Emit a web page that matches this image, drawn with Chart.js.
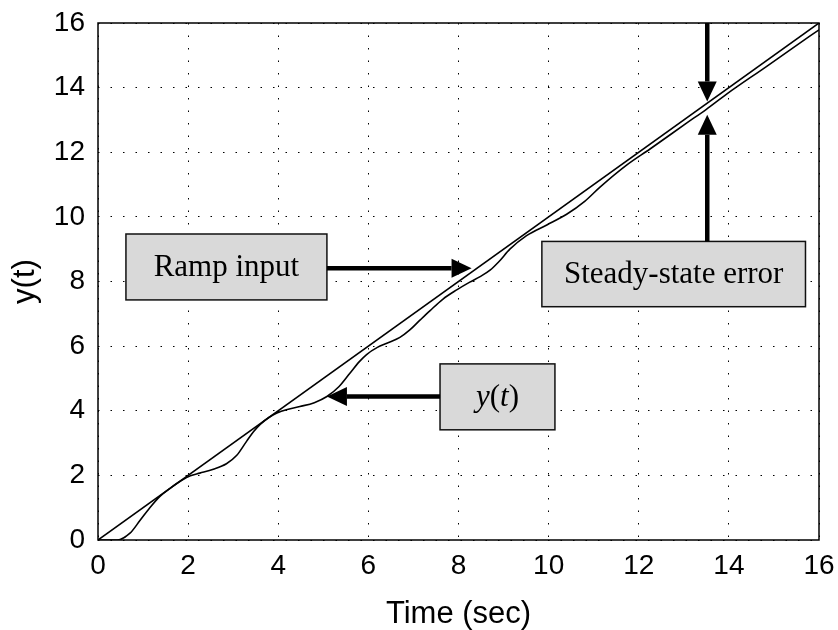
<!DOCTYPE html>
<html>
<head>
<meta charset="utf-8">
<script src="https://cdn.jsdelivr.net/npm/chart.js@4"></script>
<style>
  html, body { margin: 0; padding: 0; background: #fff; }
  #wrap { width: 838px; height: 630px; }
</style>
</head>
<body>
<div id="wrap"><canvas id="chart" width="838" height="630"></canvas></div>
<script>
// --- Data ---
const tickValues = [0, 2, 4, 6, 8, 10, 12, 14, 16];

const rampTime = [0, 16];
const rampValue = [0, 16];

const responseTime = [0, 0.43, 0.71, 0.93, 1.15, 1.38, 1.6, 1.85, 2.05, 2.26, 2.56, 2.85, 3.08, 3.3, 3.45,
    3.6, 3.8, 3.97, 4.2, 4.48, 4.8, 5.08, 5.35, 5.59, 5.8, 5.96, 6.2, 6.41, 6.7, 6.92, 7.15, 7.37,
    7.65, 7.96, 8.25, 8.48, 8.7, 8.9, 9.14, 9.51, 9.96, 10.4, 10.8, 11.14, 11.73, 12.25, 13.06,
    13.5, 13.95, 14.84, 15.36, 16];
const responseValue = [0, 0, 0.21, 0.6, 1.0, 1.36, 1.6, 1.84, 1.99, 2.07, 2.19, 2.36, 2.62, 3.06, 3.35,
    3.58, 3.8, 3.93, 4.04, 4.13, 4.25, 4.44, 4.75, 5.16, 5.52, 5.74, 5.96, 6.09, 6.27, 6.5, 6.81, 7.1,
    7.45, 7.74, 7.98, 8.15, 8.35, 8.62, 9.0, 9.42, 9.75, 10.08, 10.48, 10.92, 11.6, 12.1, 12.9,
    13.33, 13.8, 14.66, 15.17, 15.79];

const toPoints = (xs, ys) => xs.map((v, i) => ({ x: v, y: ys[i] }));

// --- Annotation drawing (boxes + arrows, placed in data units) ---
function drawArrow(ctx, x0, y0, x1, y1) {
    const headLen = 20, headHalf = 9.5;
    const ang = Math.atan2(y1 - y0, x1 - x0);
    const bx = x1 - headLen * Math.cos(ang);
    const by = y1 - headLen * Math.sin(ang);
    ctx.lineWidth = 4.5;
    ctx.strokeStyle = '#000';
    ctx.beginPath();
    ctx.moveTo(x0, y0);
    ctx.lineTo(bx, by);
    ctx.stroke();
    ctx.fillStyle = '#000';
    ctx.beginPath();
    ctx.moveTo(x1, y1);
    ctx.lineTo(bx + headHalf * Math.sin(ang), by - headHalf * Math.cos(ang));
    ctx.lineTo(bx - headHalf * Math.sin(ang), by + headHalf * Math.cos(ang));
    ctx.closePath();
    ctx.fill();
}

function drawBox(ctx, x, y, t0, t1, v0, v1) {
    const left = x.getPixelForValue(t0), right = x.getPixelForValue(t1);
    const top = y.getPixelForValue(v0), bottom = y.getPixelForValue(v1);
    ctx.fillStyle = '#d9d9d9';
    ctx.fillRect(left, top, right - left, bottom - top);
    ctx.lineWidth = 1.5;
    ctx.strokeStyle = '#111';
    ctx.strokeRect(left, top, right - left, bottom - top);
    return { left, right, top, bottom, cx: (left + right) / 2, cy: (top + bottom) / 2 };
}

const annotationPlugin = {
    id: 'annotations',
    afterDatasetsDraw(chart) {
        const { ctx, chartArea, scales: { x, y } } = chart;
        ctx.save();

        // plot frame on all four sides
        ctx.strokeStyle = '#000';
        ctx.lineWidth = 1.5;
        ctx.setLineDash([]);
        ctx.strokeRect(chartArea.left, chartArea.top, chartArea.width, chartArea.height);

        ctx.textBaseline = 'middle';
        ctx.textAlign = 'center';
        ctx.font = '31px "Liberation Serif", "Times New Roman", serif';

        // Ramp input
        const ramp = drawBox(ctx, x, y, 0.62, 5.08, 9.47, 7.43);
        ctx.fillStyle = '#000';
        ctx.fillText('Ramp input', ramp.cx, ramp.cy + 1);
        drawArrow(ctx, ramp.right, y.getPixelForValue(8.41), x.getPixelForValue(8.29), y.getPixelForValue(8.41));

        // Steady-state error
        const sse = drawBox(ctx, x, y, 9.85, 15.70, 9.24, 7.22);
        ctx.fillStyle = '#000';
        ctx.fillText('Steady-state error', sse.cx, sse.cy + 1);
        const ax = x.getPixelForValue(13.52);
        drawArrow(ctx, ax, sse.top, ax, y.getPixelForValue(13.16));
        drawArrow(ctx, ax, chartArea.top, ax, y.getPixelForValue(13.57));

        // y(t) label, italic y and t
        const yt = drawBox(ctx, x, y, 7.59, 10.14, 5.45, 3.41);
        const parts = [
            ['y', 'italic 31px "Liberation Serif", serif'],
            ['(', '31px "Liberation Serif", serif'],
            ['t', 'italic 31px "Liberation Serif", serif'],
            [')', '31px "Liberation Serif", serif']
        ];
        let total = 0;
        parts.forEach(p => { ctx.font = p[1]; total += ctx.measureText(p[0]).width; });
        let px = yt.cx - total / 2;
        ctx.textAlign = 'left';
        ctx.fillStyle = '#000';
        parts.forEach(p => {
            ctx.font = p[1];
            ctx.fillText(p[0], px, yt.cy + 1);
            px += ctx.measureText(p[0]).width;
        });
        drawArrow(ctx, yt.left, y.getPixelForValue(4.44), x.getPixelForValue(5.08), y.getPixelForValue(4.44));

        ctx.restore();
    }
};

// --- Chart ---
const sansFont = '"Liberation Sans", Arial, Helvetica, sans-serif';
const setTicks = scale => { scale.ticks = tickValues.map(v => ({ value: v })); };

new Chart(document.getElementById('chart').getContext('2d'), {
    type: 'line',
    data: {
        datasets: [{
            label: 'Ramp input',
            data: toPoints(rampTime, rampValue),
            borderColor: '#000',
            borderWidth: 1.6,
            pointRadius: 0,
            tension: 0,
            fill: false
        }, {
            label: 'y(t)',
            data: toPoints(responseTime, responseValue),
            borderColor: '#000',
            borderWidth: 1.6,
            pointRadius: 0,
            cubicInterpolationMode: 'monotone',
            fill: false
        }]
    },
    options: {
        responsive: false,
        animation: false,
        devicePixelRatio: 1,
        layout: { padding: { left: 0, right: 19, top: 23, bottom: 0 } },
        plugins: {
            legend: { display: false },
            tooltip: { enabled: false }
        },
        scales: {
            x: {
                type: 'linear',
                min: 0,
                max: 16,
                afterBuildTicks: setTicks,
                afterFit: scale => {
                    scale.height = 90;
                    scale.paddingLeft = 0;
                    scale.paddingRight = 0;
                },
                ticks: { color: '#000', font: { family: sansFont, size: 28 }, padding: 9, maxRotation: 0 },
                grid: { color: '#000', lineWidth: 1, drawTicks: false },
                border: { display: false, dash: [1.5, 11] },
                title: {
                    display: true,
                    text: 'Time (sec)',
                    color: '#000',
                    font: { family: sansFont, size: 31 },
                    padding: { top: 0, bottom: -3 }
                }
            },
            y: {
                type: 'linear',
                min: 0,
                max: 16,
                afterBuildTicks: setTicks,
                afterFit: scale => {
                    scale.width = 98;
                    scale.paddingTop = 0;
                    scale.paddingBottom = 0;
                },
                ticks: { color: '#000', font: { family: sansFont, size: 28 }, padding: 13 },
                grid: { color: '#000', lineWidth: 1, drawTicks: false },
                border: { display: false, dash: [1.5, 11] },
                title: {
                    display: true,
                    text: 'y(t)',
                    color: '#000',
                    font: { family: sansFont, size: 31 },
                    padding: { top: 7, bottom: 0 }
                }
            }
        }
    },
    plugins: [annotationPlugin]
});
</script>
</body>
</html>
